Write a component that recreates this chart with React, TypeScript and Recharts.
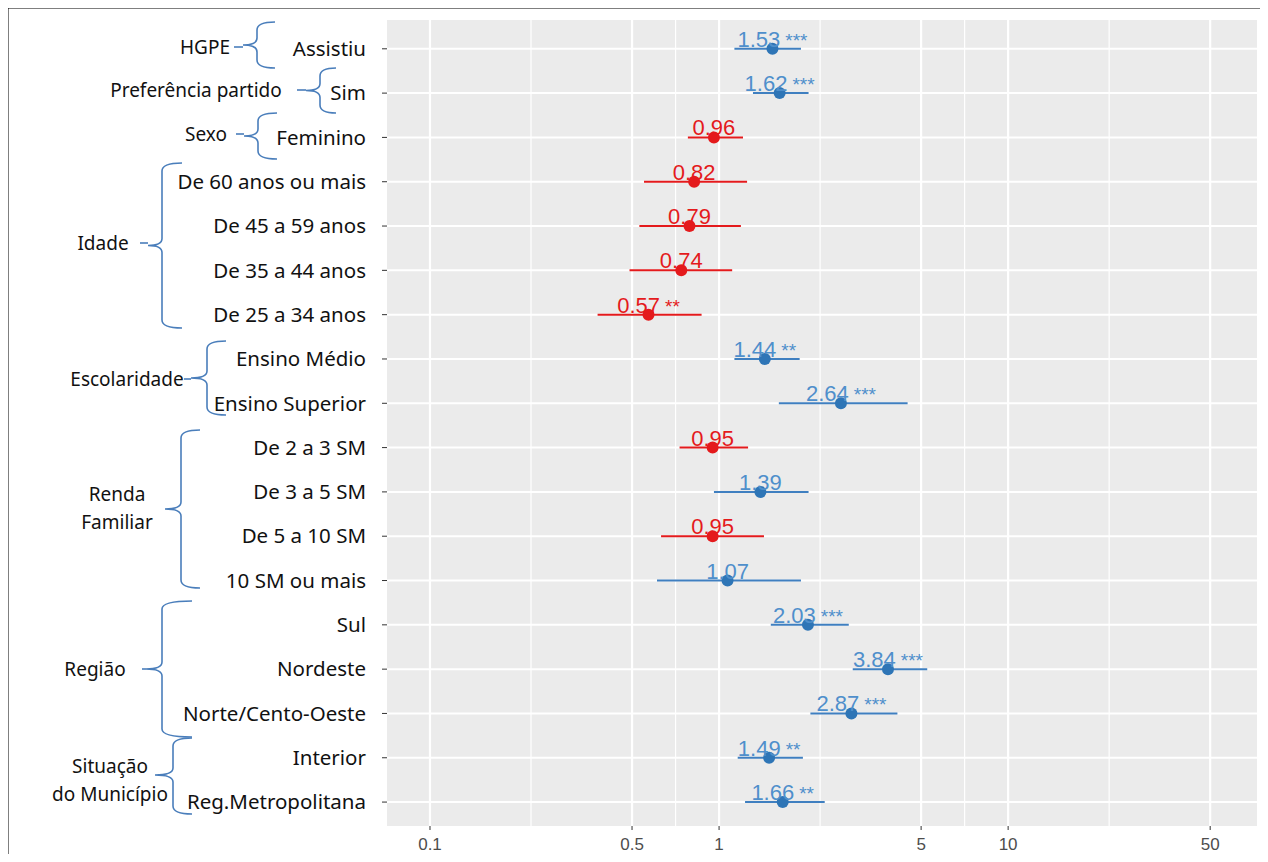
import React from "react";
import {
  ComposedChart,
  Scatter,
  ErrorBar,
  XAxis,
  YAxis,
  CartesianGrid,
  ReferenceLine,
} from "recharts";

const categories = [
  "Assistiu", "Sim", "Feminino", "De 60 anos ou mais", "De 45 a 59 anos",
  "De 35 a 44 anos", "De 25 a 34 anos", "Ensino Médio", "Ensino Superior",
  "De 2 a 3 SM", "De 3 a 5 SM", "De 5 a 10 SM", "10 SM ou mais", "Sul",
  "Nordeste", "Norte/Cento-Oeste", "Interior", "Reg.Metropolitana",
];
const oddsRatio = [1.53, 1.62, 0.96, 0.82, 0.79, 0.74, 0.57, 1.44, 2.64, 0.95, 1.39, 0.95, 1.07, 2.03, 3.84, 2.87, 1.49, 1.66];
const ciLow = [1.13, 1.31, 0.78, 0.55, 0.53, 0.49, 0.38, 1.13, 1.61, 0.73, 0.96, 0.63, 0.61, 1.51, 2.9, 2.07, 1.16, 1.23];
const ciHigh = [1.92, 2.04, 1.21, 1.25, 1.19, 1.11, 0.87, 1.9, 4.49, 1.26, 2.04, 1.43, 1.92, 2.81, 5.25, 4.14, 1.95, 2.32];
const stars = ["***", "***", "", "", "", "", "**", "**", "***", "", "", "", "", "***", "***", "***", "**", "**"];
const xTicks = [0.1, 0.5, 1, 5, 10, 50];
const xMinor = [0.2236, 0.7071, 2.236, 7.071, 22.36];

const rows = categories.map((c, i) => ({
  row: i + 1,
  name: c,
  or: oddsRatio[i],
  err: [oddsRatio[i] - ciLow[i], ciHigh[i] - oddsRatio[i]],
  stars: stars[i],
}));
const redRows = rows.filter((r) => r.or < 1);
const blueRows = rows.filter((r) => r.or >= 1);

const groups = [
  { lines: ["HGPE"], tx: 205, ty: 47, bx: 257, top: 22, bot: 68, hook: 275, cusp: 243, lx: 234 },
  { lines: ["Preferência partido"], tx: 196, ty: 90, bx: 320, top: 68, bot: 113, hook: 336, cusp: 306, lx: 297 },
  { lines: ["Sexo"], tx: 206, ty: 134, bx: 258, top: 113, bot: 159, hook: 277, cusp: 244, lx: 236 },
  { lines: ["Idade"], tx: 103, ty: 243, bx: 162, top: 163, bot: 328, hook: 182, cusp: 148, lx: 140 },
  { lines: ["Escolaridade"], tx: 127, ty: 379, bx: 207, top: 341, bot: 415, hook: 226, cusp: 191, lx: 184 },
  { lines: ["Renda", "Familiar"], tx: 117, ty: 508, bx: 181, top: 430, bot: 588, hook: 200, cusp: 165, lx: 0 },
  { lines: ["Região"], tx: 95, ty: 669, bx: 162, top: 601, bot: 737, hook: 192, cusp: 146, lx: 142 },
  { lines: ["Situação", "do Município"], tx: 110, ty: 780, bx: 173, top: 738, bot: 814, hook: 192, cusp: 155, lx: 0, mid: 775 },
];

const brace = (g: any) => {
  const m = g.mid ?? (g.top + g.bot) / 2;
  const x = g.bx;
  return `M${g.hook},${g.top} Q${x},${g.top} ${x},${g.top + 8} L${x},${m - 7} Q${x},${m} ${g.cusp},${m} Q${x},${m} ${x},${m + 7} L${x},${g.bot - 8} Q${x},${g.bot} ${g.hook},${g.bot}`;
};

const makeShape = (dot: string, txt: string) => (p: any) => {
  const { cx, cy, payload } = p;
  return (
    <g>
      <circle cx={cx} cy={cy} r={6} fill={dot} />
      <text x={cx} y={cy - 2} textAnchor="middle" fill={txt} fontFamily="Liberation Sans, Arial" fontSize={22}>
        {payload.or.toFixed(2)}
        {payload.stars ? <tspan fontSize={19} dx={5}>{payload.stars}</tspan> : null}
      </text>
    </g>
  );
};

export default function App() {
  return (
    <div style={{ position: "relative", width: 1268, height: 862, margin: -8, background: "#fff" }}>
      <ComposedChart
        width={1268}
        height={862}
        layout="vertical"
        data={rows}
        margin={{ top: 20, right: 11, left: 0, bottom: 6 }}
      >
        <CartesianGrid fill="#EBEBEB" stroke="#fff" strokeWidth={2} vertical={false} horizontalValues={rows.map((r) => r.row)} />
        {xMinor.map((v) => (
          <ReferenceLine key={"m" + v} x={v} stroke="#fff" strokeWidth={1.2} />
        ))}
        {xTicks.map((v) => (
          <ReferenceLine key={"t" + v} x={v} stroke="#fff" strokeWidth={2.2} />
        ))}
        <XAxis
          type="number"
          dataKey="or"
          scale="log"
          domain={[0.071, 72.6]}
          ticks={xTicks}
          allowDataOverflow
          height={30}
          axisLine={false}
          tickLine={{ stroke: "#333" }}
          tickSize={4}
          tickMargin={8}
          tick={{ fill: "#4D4D4D", fontSize: 17, fontFamily: "Liberation Sans, Arial" }}
        />
        <YAxis
          type="number"
          dataKey="row"
          domain={[0.35, 18.54]}
          ticks={rows.map((r) => r.row)}
          tickFormatter={(v: number) => categories[v - 1]}
          interval={0}
          width={387}
          axisLine={false}
          tickLine={{ stroke: "#333" }}
          tickSize={5}
          tickMargin={16}
          tick={{ fill: "#111", fontSize: 20.5, fontFamily: "Noto Sans" }}
        />
        <Scatter data={redRows} dataKey="or" isAnimationActive={false} shape={makeShape("#E41A1C", "#E41A1C")}>
          <ErrorBar dataKey="err" direction="x" width={0} stroke="#E41A1C" strokeWidth={2} />
        </Scatter>
        <Scatter data={blueRows} dataKey="or" isAnimationActive={false} shape={makeShape("#2E75B6", "#4F8FCB")}>
          <ErrorBar dataKey="err" direction="x" width={0} stroke="#3F7FC0" strokeWidth={2} />
        </Scatter>
      </ComposedChart>
      <svg width={1268} height={862} style={{ position: "absolute", left: 0, top: 0, zIndex: 10, pointerEvents: "none" }}>
        <line x1={1} y1={7} x2={1266} y2={7} stroke="#000" strokeWidth={3} />
        <line x1={7} y1={7} x2={7} y2={862} stroke="#000" strokeWidth={3} />
        {groups.map((g, i) => (
          <g key={i}>
            <path d={brace(g)} fill="none" stroke="#4A7EBB" strokeWidth={1.6} />
            {g.lx ? <line x1={g.lx} x2={g.cusp} y1={g.ty} y2={g.ty} stroke="#4A7EBB" strokeWidth={1.6} /> : null}
            {g.lines.map((l, j) => (
              <text
                key={j}
                x={g.tx}
                y={g.ty + 7 + (j - (g.lines.length - 1) / 2) * 28}
                textAnchor="middle"
                fontFamily="Noto Sans"
                fontSize={19}
                fill="#111"
              >
                {l}
              </text>
            ))}
          </g>
        ))}
      </svg>
    </div>
  );
}
